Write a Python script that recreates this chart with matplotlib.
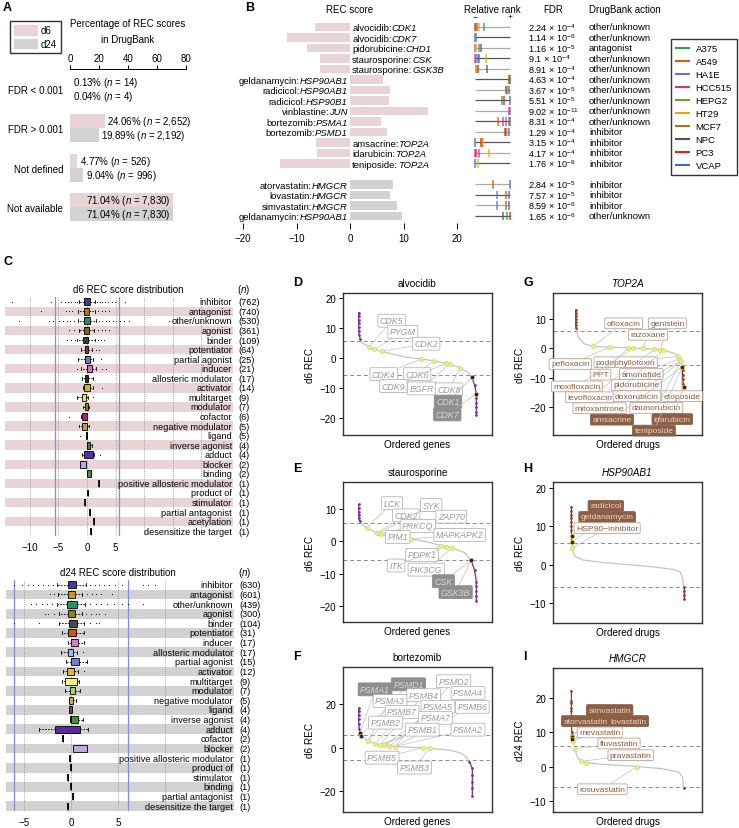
import matplotlib.pyplot as plt
from matplotlib.patches import Patch
from matplotlib.lines import Line2D
from matplotlib import transforms

plt.rcParams['font.family'] = ['Liberation Sans', 'DejaVu Sans']
plt.rcParams['mathtext.fontset'] = 'custom'
plt.rcParams['mathtext.rm'] = 'Liberation Sans'
plt.rcParams['mathtext.it'] = 'Liberation Sans:italic'
plt.rcParams['mathtext.bf'] = 'Liberation Sans:bold'
plt.rcParams['font.size'] = 7

W, H = 739, 829
PINK = '#e8d4d4'
GREY = '#d2d2d2'

# ---------------- data: panel A ----------------
a_groups = ['FDR < 0.001', 'FDR > 0.001', 'Not defined', 'Not available']
a_d6_pct = [0.13, 24.06, 4.77, 71.04]
a_d24_pct = [0.04, 19.89, 9.04, 71.04]
a_d6_n = ['14', '2,652', '526', '7,830']
a_d24_n = ['4', '2,192', '996', '7,830']

# ---------------- data: panel B ----------------
b_drug = ['alvocidib', 'alvocidib', 'pidorubicine', 'staurosporine', 'staurosporine',
          'geldanamycin', 'radicicol', 'radicicol', 'vinblastine', 'bortezomib', 'bortezomib',
          'amsacrine', 'idarubicin', 'teniposide',
          'atorvastatin', 'lovastatin', 'simvastatin', 'geldanamycin']
b_gene = ['CDK1', 'CDK7', 'CHD1', 'CSK', 'GSK3B', 'HSP90AB1', 'HSP90AB1', 'HSP90B1', 'JUN',
          'PSMA1', 'PSMD1', 'TOP2A', 'TOP2A', 'TOP2A', 'HMGCR', 'HMGCR', 'HMGCR', 'HSP90AB1']
b_rec = [-6.5, -11.8, -8.1, -5.7, -5.7, 6.1, 7.5, 7.3, 14.5, 5.8, 6.9, -6.4, -6.1, -13.0,
         8.1, 7.5, 8.7, 9.8]
b_day = ['d6'] * 14 + ['d24'] * 4
b_fdr_mant = ['2.24', '1.14', '1.16', '9.1', '8.91', '4.63', '3.67', '5.51', '9.02', '8.31',
              '1.29', '3.15', '4.17', '1.76', '2.84', '7.57', '8.59', '1.65']
b_fdr_exp = [-4, -6, -5, -4, -4, -4, -5, -5, -11, -4, -4, -4, -4, -9, -5, -5, -6, -6]
b_action = ['other/unknown', 'other/unknown', 'antagonist'] + ['other/unknown'] * 7 + \
           ['inhibitor'] * 4 + ['inhibitor'] * 3 + ['other/unknown']
b_rank = [
    [0.01, 0.03, 0.05, 0.12, 0.25],
    [0.01, 0.04],
    [0.01, 0.03, 0.12, 0.18],
    [0.01, 0.04, 0.08, 0.12, 0.30],
    [0.02, 0.05, 0.08, 0.34],
    [0.96, 0.98, 0.99],
    [0.88, 0.92, 0.96],
    [0.76, 0.83, 0.99],
    [0.97, 0.99],
    [0.67, 0.79, 0.90, 0.96, 0.99],
    [0.85, 0.90, 0.93, 0.97],
    [0.01, 0.16, 0.20, 0.22],
    [0.01, 0.03, 0.12, 0.40],
    [0.01, 0.09],
    [0.52, 0.99],
    [0.62, 0.90, 0.98],
    [0.62, 0.90, 0.98],
    [0.80, 0.92, 0.99],
]
b_cells = [
    ['PC3', 'HA1E', 'MCF7', 'HT29', 'A375'],
    ['VCAP', 'HA1E'],
    ['MCF7', 'HT29', 'HA1E', 'NPC'],
    ['HCC515', 'HA1E', 'A375', 'VCAP', 'HT29'],
    ['HEPG2', 'HT29', 'PC3', 'NPC'],
    ['MCF7', 'A549', 'VCAP'],
    ['NPC', 'A549', 'VCAP'],
    ['A375', 'PC3', 'VCAP'],
    ['HCC515', 'HA1E'],
    ['A549', 'HCC515', 'HA1E', 'A549', 'VCAP'],
    ['PC3', 'NPC', 'HT29', 'VCAP'],
    ['VCAP', 'PC3', 'A549', 'HT29'],
    ['HCC515', 'PC3', 'HCC515', 'HT29'],
    ['VCAP', 'HT29'],
    ['A549', 'VCAP'],
    ['HA1E', 'A549', 'VCAP'],
    ['HA1E', 'A549', 'VCAP'],
    ['NPC', 'A375', 'PC3'],
]
cell_lines = ['A375', 'A549', 'HA1E', 'HCC515', 'HEPG2', 'HT29', 'MCF7', 'NPC', 'PC3', 'VCAP']
cell_colors = ['#2e9e5e', '#d95f02', '#6b6bd6', '#e7298a', '#66a61e', '#e6ab02', '#a6761d',
               '#555555', '#dd2222', '#3a6bc8']

# ---------------- data: panel C ----------------
d6_cats = ['inhibitor', 'antagonist', 'other/unknown', 'agonist', 'binder', 'potentiator',
           'partial agonist', 'inducer', 'allosteric modulator', 'activator', 'multitarget',
           'modulator', 'cofactor', 'negative modulator', 'ligand', 'inverse agonist', 'adduct',
           'blocker', 'binding', 'positive allosteric modulator', 'product of', 'stimulator',
           'partial antagonist', 'acetylation', 'desensitize the target']
d6_n = [762, 740, 530, 361, 109, 64, 25, 21, 17, 14, 9, 7, 6, 5, 5, 4, 4, 2, 2, 1, 1, 1, 1, 1, 1]
d6_q1 = [-0.47, -0.47, -0.5, -0.45, -0.64, -0.35, -0.4, 0.0, -0.3, -0.47, -0.8, -0.3, -0.93,
         -0.93, -0.1, 0.0, -0.5, -1.2, 0.06, 2.15, 0.23, -0.35, 0.47, 1.2, 0.64]
d6_med = [-0.1, -0.05, 0.0, -0.05, -0.2, 0.0, -0.1, 0.2, 0.0, 0.0, -0.47, 0.0, -0.47, -0.5,
          0.0, 0.2, -0.23, -0.7, 0.35, 2.15, 0.23, -0.35, 0.47, 1.2, 0.64]
d6_q3 = [0.47, 0.35, 0.5, 0.35, 0.23, 0.23, 0.47, 0.8, 0.23, 0.47, -0.1, 0.17, 0.06, 0.0,
         0.05, 0.47, 1.1, -0.1, 0.7, 2.15, 0.23, -0.35, 0.47, 1.2, 0.64]
d6_lo = [-1.3, -1.6, -1.5, -1.4, -1.7, -1.1, -1.6, -1.0, -0.8, -0.7, -1.8, -0.6, -1.0, -1.3,
         -0.1, 0.0, -0.8, -1.2, 0.06, 2.15, 0.23, -0.35, 0.47, 1.2, 0.64]
d6_hi = [1.4, 1.4, 1.5, 1.3, 1.4, 0.9, 1.0, 1.5, 1.0, 1.0, 0.2, 0.3, 0.1, 0.4, 0.05, 0.8, 1.3,
         -0.1, 0.7, 2.15, 0.23, -0.35, 0.47, 1.2, 0.64]
d6_fliers = [
    [-13.0, -6.3, -4.6, -3.9, -3.3, -2.7, -2.1, -1.7, 1.8, 2.2, 2.7, 3.2, 3.7, 4.3, 4.9, 6.7],
    [-8.1, -3.7, -3.1, -2.6, 2.0, 2.6, 3.2, 3.8],
    [-11.9, -6.6, -6.0, -4.9, -4.2, -3.5, -2.9, -2.3, 2.1, 2.7, 3.3, 3.9, 4.5, 5.1, 5.8, 6.5, 7.3, 14.4],
    [-3.1, -2.3, 2.0, 2.6, 3.2, 3.8],
    [-3.4, -2.8, -2.1, 1.9, 2.4, 3.0],
    [1.6, 2.1],
    [2.4],
    [-1.7, 2.6, 3.4],
    [], [2.6], [1.0], [], [-3.2], [], [-1.2], [], [2.2], [], [], [], [], [], [], [], [],
]
d6_colors = ['#3b3b8f', '#a07c10', '#2e8b57', '#7a6a1a', '#3f3f3f', '#8b3a0e', '#6b7bbf',
             '#d86fc8', '#2a2a2a', '#d4b800', '#e8e070', '#6b8e23', '#c01870', '#b89a60',
             '#888888', '#3a8a3a', '#5a2aa0', '#b8a8e8', '#4a8a3a'] + ['black'] * 6

d24_cats = ['inhibitor', 'antagonist', 'other/unknown', 'agonist', 'binder', 'potentiator',
            'inducer', 'allosteric modulator', 'partial agonist', 'activator', 'multitarget',
            'modulator', 'negative modulator', 'ligand', 'inverse agonist', 'adduct', 'cofactor',
            'blocker', 'positive allosteric modulator', 'product of', 'stimulator', 'binding',
            'partial antagonist', 'desensitize the target']
d24_n = [630, 601, 439, 300, 104, 31, 17, 17, 15, 12, 9, 7, 5, 4, 4, 4, 2, 2, 1, 1, 1, 1, 1, 1]
d24_q1 = [-0.35, -0.35, -0.45, -0.35, -0.2, -0.35, 0.0, -0.3, -0.05, -0.4, -0.6, -0.15, -0.2,
          -0.25, 0.0, -1.7, -0.9, 0.2, -0.1, 0.0, -0.35, 0.0, 0.2, -0.3]
d24_med = [0.0, 0.0, 0.0, 0.05, 0.3, 0.1, 0.25, 0.0, 0.25, 0.0, 0.0, 0.1, 0.0, 0.0, 0.05, 0.0,
           -0.9, 1.0, -0.1, 0.0, -0.35, 0.0, 0.2, -0.3]
d24_q3 = [0.5, 0.42, 0.6, 0.45, 0.65, 0.5, 0.75, 0.25, 0.8, 0.3, 0.6, 0.4, 0.25, 0.1, 0.7, 1.0,
          -0.9, 1.7, -0.1, 0.0, -0.35, 0.0, 0.2, -0.3]
d24_lo = [-1.5, -1.4, -1.5, -1.3, -1.3, -1.0, -0.3, -1.1, -0.5, -0.8, -1.0, -0.65, -0.2, -0.25,
          0.0, -3.4, -0.9, 0.2, -0.1, 0.0, -0.35, 0.0, 0.2, -0.3]
d24_hi = [1.6, 1.2, 1.5, 1.2, 1.4, 1.4, 1.4, 0.6, 1.7, 0.75, 0.9, 0.95, 0.5, 0.1, 1.3, 1.8,
          -0.9, 1.7, -0.1, 0.0, -0.35, 0.0, 0.2, -0.3]
d24_fliers = [
    [-6.0, -5.2, -4.6, -4.0, -3.5, -3.0, -2.4, -1.9, 2.0, 2.5, 3.0, 3.5, 4.0, 4.7, 5.4, 7.6, 8.2, 8.9],
    [-2.2, -1.8, 1.7, 2.2, 2.7, 3.2, 4.4],
    [-4.2, -3.7, -3.1, -2.5, -2.0, 2.0, 2.6, 3.2, 3.8, 4.6, 5.4, 6.0, 7.6],
    [-2.8, -2.4, -1.8, 1.6, 2.1, 2.6, 3.0, 3.6],
    [-6.0, -3.4, 2.0, 2.6, 3.0],
    [], [], [1.3], [], [1.4], [], [], [], [], [], [], [], [], [], [], [], [], [], [],
]
d24_colors = ['#4a3aa0', '#c89a10', '#2e9060', '#9a7a1a', '#4a4a4a', '#c85a10', '#e078d0',
              '#90c0f0', '#7080c8', '#e8b820', '#f8f080', '#a8d070', '#c8a068', '#555555',
              '#3a9a28', '#5a2a9a', 'black', '#c0a8e0'] + ['black'] * 6

# ---------------- data: panels D-I ----------------
d_x = [0.0, 0.0, 0.0, 0.0, 0.0, 0.002, 0.006, 0.012, 0.03, 0.09, 0.134, 0.196, 0.30, 0.40,
       0.53, 0.636, 0.74, 0.773, 0.864, 0.93, 0.963, 0.985, 1.0, 1.0, 1.0, 1.0, 1.0, 1.0]
d_y = [15.2, 14.0, 12.8, 11.6, 10.4, 9.0, 7.6, 6.4, 5.0, 3.8, 2.9, 2.2, 1.2, 0.3,
       -0.3, -0.9, -1.8, -2.0, -3.3, -4.8, -6.5, -9.0, -12.0, -13.5, -15.0, -16.5, -18.0, -19.2]
d_hl_x = [0.09, 0.134, 0.196, 0.53, 0.636, 0.74, 0.773, 0.864, 0.963, 1.0]
d_hl_y = [3.8, 2.9, 2.2, -0.3, -0.9, -1.8, -2.0, -3.3, -6.5, -12.0]
d_hl_sig = [0, 0, 0, 0, 0, 0, 0, 0, 1, 1]
d_labs = ['CDK5', 'PYGM', 'CDK2', 'CDK4', 'CDK6', 'CDK9', 'EGFR', 'CDK8', 'CDK1', 'CDK7']
d_lx = [0.28, 0.375, 0.574, 0.213, 0.497, 0.295, 0.537, 0.767, 0.759, 0.753]
d_ly = [12.5, 8.8, 4.8, -5.4, -5.4, -9.4, -10.2, -10.5, -14.6, -18.9]
d_lpt = [0, 1, 2, 3, 4, 5, 6, 7, 8, 9]

e_x = [0.0, 0.0, 0.0, 0.0, 0.002, 0.008, 0.03, 0.068, 0.153, 0.17, 0.19, 0.24, 0.446, 0.60,
       0.70, 0.744, 0.795, 0.90, 0.957, 0.985, 1.0, 1.0, 1.0, 1.0, 1.0]
e_y = [11.5, 10.3, 9.2, 8.2, 7.2, 6.2, 5.2, 4.3, 2.6, 2.5, 2.3, 1.5, 0.8, -0.3,
       -1.3, -1.6, -2.0, -3.5, -5.9, -9.0, -12.5, -14.0, -15.5, -17.0, -18.5]
e_hl_x = [0.068, 0.153, 0.17, 0.19, 0.446, 0.70, 0.744, 0.795, 0.957]
e_hl_y = [4.3, 2.6, 2.5, 2.3, 0.8, -1.3, -1.6, -2.0, -5.9]
e_hl_sig = [0, 0, 0, 0, 0, 0, 0, 0, 1]
e_labs = ['LCK', 'CDK2', 'SYK', 'ZAP70', 'PRKCQ', 'PIM1', 'MAPKAPK2', 'PDPK1', 'ITK',
          'PIK3CG', 'CSK', 'GSK3B']
e_lx = [0.284, 0.403, 0.616, 0.787, 0.503, 0.332, 0.858, 0.54, 0.318, 0.574, 0.72, 0.824]
e_ly = [11.9, 8.1, 11.3, 7.7, 4.8, 1.4, 2.0, -4.2, -7.5, -8.8, -12.4, -15.8]
e_lpt = [0, 1, 2, 3, 3, 4, 4, 5, 6, 7, 8, 8]

f_x = [0.0, 0.0, 0.0, 0.0, 0.0, 0.005, 0.012, 0.021, 0.079, 0.147, 0.188, 0.226, 0.265, 0.318,
       0.565, 0.624, 0.80, 0.90, 0.95, 0.975, 1.0, 1.0, 1.0, 1.0, 1.0]
f_y = [18.0, 16.5, 15.0, 13.0, 11.0, 8.5, 6.8, 5.5, 3.0, 1.8, 1.4, 1.1, 0.7, 0.5,
       -0.1, -0.3, -1.2, -2.5, -4.5, -6.5, -9.5, -12.5, -15.5, -18.5, -22.0]
f_hl_x = [0.012, 0.021, 0.079, 0.147, 0.188, 0.226, 0.265, 0.318, 0.565, 0.624]
f_hl_y = [6.8, 5.5, 3.0, 1.8, 1.4, 1.1, 0.7, 0.5, -0.1, -0.3]
f_hl_sig = [1, 1, 0, 0, 0, 0, 0, 0, 0, 0]
f_labs = ['PSMA1', 'PSMD1', 'PSMD2', 'PSMB4', 'PSMA4', 'PSMA3', 'PSMA5', 'PSMB6', 'PSMB7',
          'PSMA7', 'PSMB2', 'PSMB1', 'PSMA2', 'PSMB5', 'PSMB3']
f_lx = [0.144, 0.438, 0.835, 0.571, 0.962, 0.276, 0.697, 1.0, 0.382, 0.674, 0.235, 0.559,
        0.962, 0.206, 0.491]
f_ly = [26.6, 28.9, 30.3, 23.9, 25.0, 21.3, 18.6, 18.6, 16.3, 13.6, 11.4, 8.2, 8.2, -4.6, -9.1]
f_lpt = [0, 1, 7, 4, 6, 2, 5, 7, 3, 5, 2, 4, 7, 8, 9]

g_x = [0.0, 0.0, 0.0, 0.0, 0.0, 0.0, 0.003, 0.02, 0.08, 0.16, 0.315, 0.485, 0.53, 0.623, 0.73,
       0.784, 0.81, 0.90, 0.948, 0.96, 0.975, 0.988, 0.99, 0.99, 0.993, 0.996, 1.0]
g_y = [13.0, 12.0, 11.0, 10.0, 9.0, 8.0, 7.0, 4.0, 1.5, 0.7, 0.4, 0.2, 0.1, 0.0, -0.3,
       -0.5, -0.6, -1.5, -2.7, -3.5, -4.3, -6.2, -7.5, -9.0, -10.5, -12.0, -13.0]
g_hl_x = [0.16, 0.315, 0.485, 0.53, 0.623, 0.73, 0.784, 0.81, 0.948, 0.96, 0.975, 0.988, 1.0]
g_hl_y = [0.7, 0.4, 0.2, 0.1, 0.0, -0.3, -0.5, -0.6, -2.7, -3.5, -4.3, -6.2, -13.0]
g_hl_sig = [0] * 11 + [1, 1]
g_labs = ['ofloxacin', 'genistein', 'razoxane', 'pefloxacin', 'podophyllotoxin', 'PPT',
          'amonafide', 'moxifloxacin', 'pidorubicine', 'levofloxacin', 'doxorubicin',
          'etoposide', 'mitoxantrone', 'daunorubicin', 'amsacrine', 'idarubicin', 'teniposide']
g_lx = [0.444, 0.849, 0.67, -0.05, 0.463, 0.231, 0.608, 0.012, 0.562, 0.13, 0.568, 0.985,
        0.222, 0.747, 0.336, 0.895, 0.725]
g_ly = [8.5, 8.5, 4.6, -5.3, -4.7, -8.9, -8.7, -12.9, -12.4, -16.6, -16.2, -16.2, -20.3,
        -20.2, -24.2, -24.0, -27.9]
g_lpt = [0, 6, 4, 1, 8, 2, 9, 3, 10, 5, 10, 10, 7, 10, 11, 12, 11]

h_x = [0.0, 0.0, 0.0, 0.0, 0.0, 0.0, 0.0, 0.001, 0.003, 0.006, 0.03, 0.10, 0.30, 0.50, 0.70,
       0.90, 0.97, 0.99, 1.0, 1.0, 1.0, 1.0]
h_y = [15.0, 14.0, 13.0, 12.0, 11.0, 10.0, 9.0, 7.5, 5.9, 4.3, 2.2, 1.2, 0.5, 0.0, -0.5,
       -1.2, -2.0, -3.5, -5.8, -7.0, -8.0, -9.0]
h_hl_x = [0.001, 0.003, 0.006]
h_hl_y = [7.5, 5.9, 4.3]
h_hl_sig = [1, 1, 0]
h_labs = ['radicicol', 'geldanamycin', 'HSP90\u2212inhibitor']
h_lx = [0.306, 0.318, 0.318]
h_ly = [15.3, 12.4, 9.5]
h_lpt = [0, 1, 2]

i_x = [0.0, 0.0, 0.0, 0.0, 0.0, 0.0, 0.0, 0.003, 0.005, 0.006, 0.008, 0.015, 0.03, 0.05, 0.083,
       0.128, 0.30, 0.585, 0.80, 0.95, 0.99, 1.0]
i_y = [22.0, 19.0, 18.5, 17.0, 16.0, 14.0, 12.0, 10.0, 9.0, 8.5, 8.0, 7.5, 5.2, 3.0, 1.5,
       1.1, 0.6, 0.0, -0.6, -1.5, -3.0, -6.2]
i_hl_x = [0.005, 0.006, 0.008, 0.015, 0.03, 0.083, 0.128, 0.585]
i_hl_y = [9.0, 8.5, 8.0, 7.5, 5.2, 1.5, 1.1, 0.0]
i_hl_sig = [1, 1, 1, 0, 0, 0, 0, 0]
i_labs = ['simvastatin', 'atorvastatin', 'lovastatin', 'mevastatin', 'fluvastatin',
          'pravastatin', 'rosuvastatin']
i_lx = [0.341, 0.125, 0.51, 0.252, 0.424, 0.528, 0.276]
i_ly = [16.4, 13.2, 13.2, 9.9, 6.7, 3.3, -6.6]
i_lpt = [0, 1, 2, 3, 4, 5, 7]


fig = plt.figure(figsize=(W / 100, H / 100), dpi=100)


def px_axes(l, t, r, b):
    return fig.add_axes([l / W, 1 - b / H, (r - l) / W, (b - t) / H])


def ftext(x, y, s, **kw):
    fig.text(x / W, 1 - y / H, s, **kw)


for lab, x, y in [('A', 3, 8), ('B', 245, 8), ('C', 3, 262), ('D', 293, 283), ('E', 293, 469),
                  ('F', 293, 657), ('G', 523, 283), ('H', 523, 469), ('I', 523, 657)]:
    ftext(x, y, lab, fontsize=9, fontweight='bold', va='center', ha='left')

# ---------------- panel A ----------------
ax = px_axes(70, 70, 186, 228)
pos = list(range(len(a_groups)))
ax.barh([p - 0.18 for p in pos], a_d6_pct, height=0.36, color=PINK)
ax.barh([p + 0.18 for p in pos], a_d24_pct, height=0.36, color=GREY)
for p in pos:
    for v, n, off in [(a_d6_pct[p], a_d6_n[p], -0.18), (a_d24_pct[p], a_d24_n[p], 0.18)]:
        s = f'{v:.2f}% ($n$ = {n})'
        if v > 50:
            ax.text(v - 1.5, p + off, s, ha='right', va='center', fontsize=7)
        else:
            ax.text(v + 1.8, p + off, s, ha='left', va='center', fontsize=7)
ax.set_xlim(0, 80)
ax.set_ylim(3.5, -0.5)
ax.xaxis.tick_top()
ax.set_xticks([0, 20, 40, 60, 80])
ax.tick_params(axis='x', direction='out', length=3, pad=1, labelsize=7)
ax.set_yticks(pos)
ax.set_yticklabels(a_groups, fontsize=7)
ax.tick_params(axis='y', length=0, pad=5)
for s in ['left', 'right', 'bottom']:
    ax.spines[s].set_visible(False)
ax.spines['top'].set_linewidth(0.7)
ftext(128, 32, 'Percentage of REC scores\nin DrugBank', ha='center', va='center',
      fontsize=7, linespacing=1.7)
fig.legend(handles=[Patch(color=PINK, label='d6'), Patch(color=GREY, label='d24')],
           loc='upper left', bbox_to_anchor=(5 / W, 1 - 17 / H), frameon=True, fancybox=False,
           edgecolor='black', fontsize=7, handlelength=2.3, handleheight=1.1,
           borderpad=0.45, labelspacing=0.35, handletextpad=0.4)

# ---------------- panel B ----------------
rows = [i if i < 14 else i + 1 for i in range(len(b_rec))]
ax = px_axes(243, 22, 457, 224)
ax.barh(rows, b_rec, height=0.8, color=[PINK if d == 'd6' else GREY for d in b_day])
# drug name upright, gene name italic, sharing one baseline
for r, v, dr, g in zip(rows, b_rec, b_drug, b_gene):
    yb = r + 0.33
    if v < 0:
        t1 = ax.text(0.4, yb, dr + ':', ha='left', va='baseline', fontsize=6.8)
        ax.annotate(g, xy=(1, yb), xycoords=(t1, 'data'), ha='left', va='baseline',
                    fontsize=6.8, style='italic')
    else:
        t1 = ax.text(-0.4, yb, g, ha='right', va='baseline', fontsize=6.8, style='italic')
        ax.annotate(dr + ':', xy=(0, yb), xycoords=(t1, 'data'), ha='right', va='baseline',
                    fontsize=6.8)
ax.set_xlim(-20, 20)
ax.set_ylim(18.67, -0.57)
ax.set_xticks([-20, -10, 0, 10, 20])
ax.set_yticks([])
ax.tick_params(axis='x', length=4, width=0.7, pad=3, labelsize=7)
for s in ax.spines.values():
    s.set_visible(False)

axr = px_axes(473, 22, 512, 224)
axr.set_xlim(-0.06, 1.06)
axr.set_ylim(18.67, -0.57)
cmap = dict(zip(cell_lines, cell_colors))
for k, (r, pr, cl) in enumerate(zip(rows, b_rank, b_cells)):
    axr.hlines(r, 0, 1, color='#aaaaaa' if k % 2 == 0 else '#555555', lw=0.9, zorder=1)
    axr.vlines(pr, r - 0.4, r + 0.4, colors=[cmap[c] for c in cl], lw=1.1, alpha=0.85, zorder=2)
axr.axis('off')

tr = transforms.blended_transform_factory(fig.transFigure, ax.transData)
for r, m, e, act in zip(rows, b_fdr_mant, b_fdr_exp, b_action):
    ax.text(528 / W, r, f'{m} $\\times$ 10$^{{{e}}}$', transform=tr, ha='left', va='center',
            fontsize=6.6)
    ax.text(589 / W, r, act, transform=tr, ha='left', va='center', fontsize=6.8)

ftext(350, 10, 'REC score', ha='center', va='center', fontsize=7)
ftext(492, 10, 'Relative rank', ha='center', va='center', fontsize=7)
ftext(475, 18, '\u2212', ha='center', va='center', fontsize=6)
ftext(510, 18, '+', ha='center', va='center', fontsize=6)
ftext(553, 10, 'FDR', ha='center', va='center', fontsize=7)
ftext(589, 10, 'DrugBank action', ha='left', va='center', fontsize=7)

fig.legend(handles=[Line2D([], [], color=c, lw=1.5, label=n) for n, c in zip(cell_lines, cell_colors)],
           loc='upper right', bbox_to_anchor=(737 / W, 1 - 40 / H), frameon=True, fancybox=False,
           edgecolor='black', fontsize=6.8, handlelength=1.4, labelspacing=0.42,
           borderpad=0.55, handletextpad=0.7, borderaxespad=0)


# ---------------- panel C ----------------
def box_panel(box, cats, counts, q1, med, q3, lo, hi, fliers, colors, stripe, blue, xlim,
              grid, ticks):
    ax = px_axes(*box)
    n = len(cats)
    for i in range(n):
        if i % 2 == 1:
            ax.axhspan(i - 0.5, i + 0.5, color=stripe, lw=0, zorder=0)
    for g in grid:
        ax.axvline(g, color='#8a8a8a', ls=(0, (1, 1.5)), lw=0.6, zorder=0.5)
    for b in blue:
        ax.axvline(b, color='#7f8fe8', lw=0.9, zorder=0.6)
    stats = [dict(q1=q1[i], med=med[i], q3=q3[i], whislo=lo[i], whishi=hi[i], fliers=fliers[i])
             for i in range(n)]
    bp = ax.bxp(stats, positions=list(range(n)), widths=0.72, orientation='horizontal',
                patch_artist=True, capwidths=0.3,
                boxprops=dict(edgecolor='black', linewidth=0.6),
                medianprops=dict(color='black', linewidth=1.3),
                whiskerprops=dict(color='black', linewidth=0.6, linestyle=(0, (2, 1.5))),
                capprops=dict(color='black', linewidth=0.6),
                flierprops=dict(marker='.', markersize=1.6, markerfacecolor='black',
                                markeredgecolor='none', linestyle='none'))
    for p, c in zip(bp['boxes'], colors):
        p.set_facecolor(c)
        p.set_zorder(3)
    yt = ax.get_yaxis_transform()
    for i, (c, k) in enumerate(zip(cats, counts)):
        ax.text(0.995, i, c, transform=yt, ha='right', va='center', fontsize=6.6)
        ax.text(1.025, i, f'({k})', transform=yt, ha='left', va='center', fontsize=6.6)
    ax.set_xlim(*xlim)
    ax.set_ylim(n - 0.5, -0.5)
    ax.set_yticks([])
    ax.set_xticks(ticks)
    ax.set_xticklabels([f'{t:d}'.replace('-', '\u2212') for t in ticks])
    ax.tick_params(axis='x', length=0, pad=4, labelsize=7)
    for s in ax.spines.values():
        s.set_visible(False)
    return ax


box_panel((5, 298, 233, 537), d6_cats, d6_n, d6_q1, d6_med, d6_q3, d6_lo, d6_hi, d6_fliers,
          d6_colors, PINK, [-5.6, 5.6], (-14.3, 25.5), [-10, -5, 0, 5, 10, 15, 20],
          [-10, -5, 0, 5])
ftext(128, 290, 'd6 REC score distribution', ha='center', va='center', fontsize=7)
ftext(244, 290, '($n$)', ha='center', va='center', fontsize=7)

box_panel((6, 581, 234, 812), d24_cats, d24_n, d24_q1, d24_med, d24_q3, d24_lo, d24_hi,
          d24_fliers, d24_colors, GREY, [-6.05, 6.05], (-6.9, 17.3), [-5, 0, 5, 10, 15],
          [-5, 0, 5])
ftext(118, 573, 'd24 REC score distribution', ha='center', va='center', fontsize=7)
ftext(245, 573, '($n$)', ha='center', va='center', fontsize=7)


# ---------------- panels D-I ----------------
def waterfall(box, cx, cy, thr, hx, hy, hsig, labs, lx, ly, lpt, kind, xlim, ylim, yticks,
              title, ylabel, xlabel):
    ax = px_axes(*box)
    if kind == 'gene':
        sig_col, dark_pt = '#7a2a9a', '#4a0a5a'
        l_fc, l_ec, l_tc = 'white', '#b4b4b4', '#9a9a9a'
        d_fc, d_tc = '#8e8e8e', '#d8d8d8'
        style, fs = 'italic', 6.4
    else:
        sig_col, dark_pt = '#8a3a20', '#4a2008'
        l_fc, l_ec, l_tc = 'white', '#c0a090', '#8b5a3c'
        d_fc, d_tc = '#8b5e45', '#ecd6c6'
        style, fs = 'normal', 6.1
    ax.axhline(thr, color='#8a8a8a', ls=(0, (4, 3)), lw=0.7, zorder=1)
    ax.axhline(-thr, color='#8a8a8a', ls=(0, (4, 3)), lw=0.7, zorder=1)
    ax.plot(cx, cy, color='#c4c4c4', lw=0.9, zorder=2)
    for keep in (lambda v: v > thr, lambda v: v < -thr):
        seg = [(x, y) for x, y in zip(cx, cy) if keep(y)]
        if seg:
            xs, ys = zip(*seg)
            ax.plot(xs, ys, color=sig_col, lw=0.8, marker='.', ms=1.8, zorder=3)
    for name, x, y, p in zip(labs, lx, ly, lpt):
        dark = hsig[p] == 1
        ax.annotate(name, xy=(hx[p], hy[p]), xytext=(x, y), ha='center', va='center',
                    fontsize=fs, style=style, color=d_tc if dark else l_tc, zorder=4,
                    bbox=dict(boxstyle='round,pad=0.22,rounding_size=0.15',
                              fc=d_fc if dark else l_fc, ec=d_fc if dark else l_ec, lw=0.6),
                    arrowprops=dict(arrowstyle='-', color='#c0c0c0', lw=0.5,
                                    shrinkA=0, shrinkB=1.5))
    ax.scatter([x for x, s in zip(hx, hsig) if not s], [y for y, s in zip(hy, hsig) if not s],
               s=10, color='#ecec8a', edgecolors='#d2d25a', linewidths=0.4, zorder=5)
    ax.scatter([x for x, s in zip(hx, hsig) if s], [y for y, s in zip(hy, hsig) if s],
               s=10, color=dark_pt, edgecolors='#e0e070', linewidths=0.4, zorder=6)
    ax.set_xlim(*xlim)
    ax.set_ylim(*ylim)
    ax.set_xticks([])
    ax.set_yticks(yticks)
    ax.tick_params(axis='y', length=3, width=0.7, pad=2, labelsize=7)
    for s in ax.spines.values():
        s.set_linewidth(1.0)
        s.set_color('#333333')
    ax.set_title(title, fontsize=7.2, pad=5,
                 style='italic' if title in ('TOP2A', 'HSP90AB1', 'HMGCR') else 'normal')
    ax.set_ylabel(ylabel, fontsize=7.2, labelpad=3)
    ax.set_xlabel(xlabel, fontsize=7.2, labelpad=3)
    return ax


waterfall((343, 294, 492, 436), d_x, d_y, 5.8, d_hl_x, d_hl_y, d_hl_sig, d_labs, d_lx, d_ly,
          d_lpt, 'gene', (-0.133, 1.133), (-25.8, 21.8), [-20, -10, 0, 10, 20], 'alvocidib',
          'd6 REC', 'Ordered genes')
waterfall((343, 483, 492, 623), e_x, e_y, 5.7, e_hl_x, e_hl_y, e_hl_sig, e_labs, e_lx, e_ly,
          e_lpt, 'gene', (-0.133, 1.133), (-25.1, 18.5), [-20, -10, 0, 10], 'staurosporine',
          'd6 REC', 'Ordered genes')
waterfall((343, 668, 492, 813), f_x, f_y, 5.8, f_hl_x, f_hl_y, f_hl_sig, f_labs, f_lx, f_ly,
          f_lpt, 'gene', (-0.138, 1.173), (-29.4, 36.8), [-20, 0, 20], 'bortezomib',
          'd6 REC', 'Ordered genes')
waterfall((553, 294, 702, 436), g_x, g_y, 5.8, g_hl_x, g_hl_y, g_hl_sig, g_labs, g_lx, g_ly,
          g_lpt, 'drug', (-0.21, 1.17), (-29.4, 18.8), [-20, -10, 0, 10], 'TOP2A',
          'd6 REC', 'Ordered drugs')
waterfall((553, 483, 702, 624), h_x, h_y, 5.7, h_hl_x, h_hl_y, h_hl_sig, h_labs, h_lx, h_ly,
          h_lpt, 'drug', (-0.164, 1.163), (-15.2, 21.5), [-10, 0, 10, 20], 'HSP90AB1',
          'd6 REC', 'Ordered drugs')
waterfall((553, 669, 702, 813), i_x, i_y, 6.0, i_hl_x, i_hl_y, i_hl_sig, i_labs, i_lx, i_ly,
          i_lpt, 'drug', (-0.164, 1.163), (-13.2, 28.6), [-10, 0, 10, 20], 'HMGCR',
          'd24 REC', 'Ordered drugs')

fig.savefig('out.png', dpi=100)
